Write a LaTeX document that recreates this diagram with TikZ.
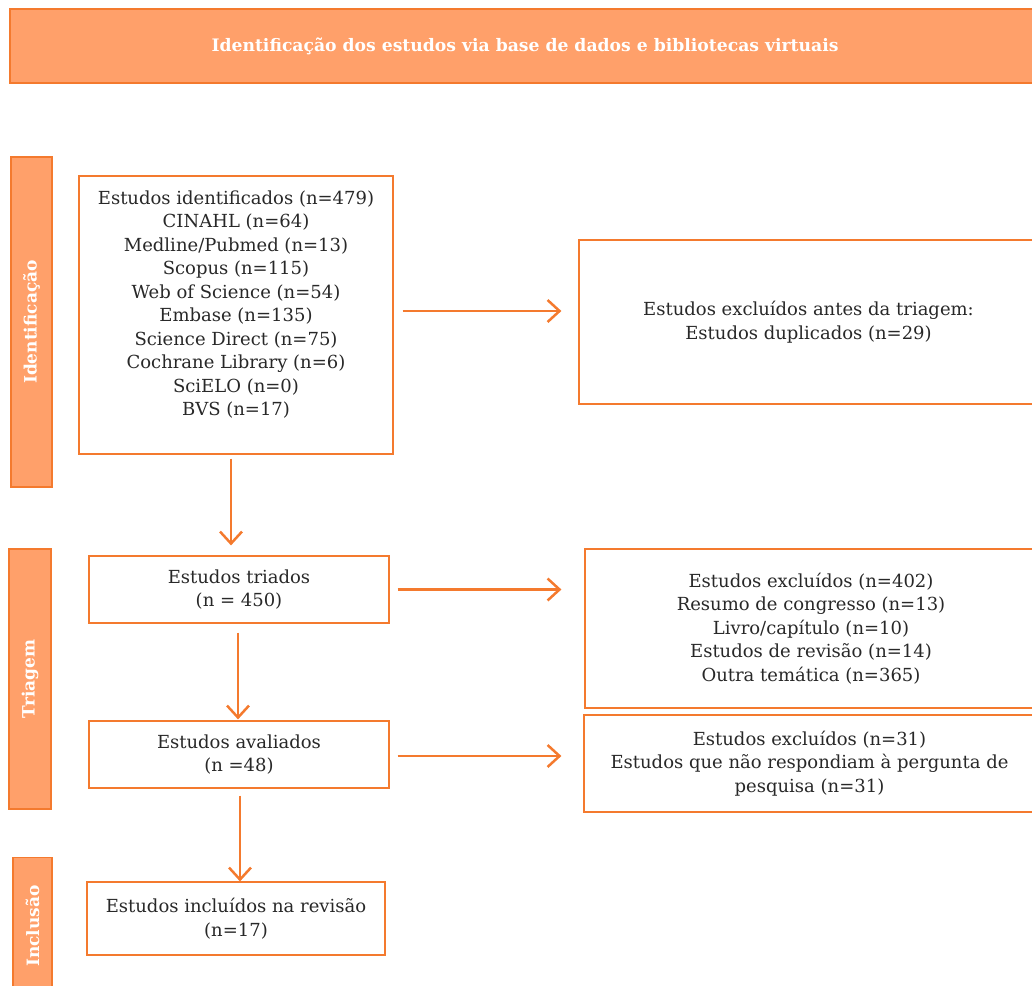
\documentclass[tikz,border=0pt]{standalone}
\usepackage{fontspec}
\setmainfont{DejaVu Serif}
\usetikzlibrary{arrows.meta}
\definecolor{prisma}{RGB}{244,122,46}
\definecolor{prismafill}{RGB}{255,160,106}
\definecolor{prismatext}{RGB}{40,40,40}

\begin{document}
\begin{tikzpicture}[x=1pt,y=-1pt,
        caixa/.style={draw=prisma,line width=1.2pt,text=prismatext,align=center,inner sep=0pt,
          font=\fontsize{18}{23.5}\selectfont},
        fase/.style={draw=prisma,fill=prismafill,line width=1.2pt,text=white,inner sep=0pt,rotate=90,
          font=\bfseries\fontsize{17}{20}\selectfont},
        seta/.style={draw=prisma,line width=2.5pt,-{Straight Barb[length=12pt,width=22pt]}}]
        \useasboundingbox (0,0) rectangle (1032,985);
        % faixa do topo e fases
        \node[fase,rotate=-90,minimum width=1030,minimum height=74,font=\bfseries\fontsize{17.2}{20}\selectfont] (titulo) at (525,46) {Identificação dos estudos via base de dados e bibliotecas virtuais};
        \node[fase,minimum width=330,minimum height=41] (fid) at (31.5,322) {Identificação};
        \node[fase,minimum width=260,minimum height=42] (ftr) at (30,679) {Triagem};
        \node[fase,minimum width=137,minimum height=39] (fin) at (32.5,926) {Inclusão};
        % caixas
        \node[caixa,minimum width=314,minimum height=278] (ident) at (236,315) {Estudos identificados (n=479)\\CINAHL (n=64)\\Medline/Pubmed (n=13)\\Scopus (n=115)\\Web of Science (n=54)\\Embase (n=135)\\Science Direct (n=75)\\Cochrane Library (n=6)\\SciELO (n=0)\\BVS (n=17)\\ \mbox{}};
        \node[caixa,minimum width=459,minimum height=164] (excl1) at (808.5,322) {Estudos excluídos antes da triagem:\\Estudos duplicados (n=29)};
        \node[caixa,minimum width=300,minimum height=67] (triados) at (239,589.5) {Estudos triados\\(n = 450)};
        \node[caixa,minimum width=452,minimum height=159] (excl2) at (811,628.5) {Estudos excluídos (n=402)\\Resumo de congresso (n=13)\\Livro/capítulo (n=10)\\Estudos de revisão (n=14)\\Outra temática (n=365)};
        \node[caixa,minimum width=300,minimum height=67] (avaliados) at (239,754.5) {Estudos avaliados\\(n =48)};
        \node[caixa,minimum width=451,minimum height=97] (excl3) at (809.5,763.5) {Estudos excluídos (n=31)\\Estudos que não respondiam à pergunta de\\pesquisa (n=31)};
        \node[caixa,minimum width=298,minimum height=73] (incl) at (236,918.5) {Estudos incluídos na revisão\\(n=17)};
        % setas
        \draw[seta,shorten <=9pt,shorten >=17pt] ([yshift=4pt]ident.east) -- ([yshift=4pt]ident.east -| excl1.west);
        \draw[seta,shorten <=4pt,shorten >=10pt] ([xshift=-5pt]ident.south) -- ([xshift=-5pt]ident.south |- triados.north);
        \draw[seta,shorten <=8pt,shorten >=23pt] (triados.east) -- (triados.east -| excl2.west);
        \draw[seta,shorten <=9pt,shorten >=1pt] ([xshift=-1pt]triados.south) -- ([xshift=-1pt]triados.south |- avaliados.north);
        \draw[seta,shorten <=8pt,shorten >=22pt] ([yshift=-1.5pt]avaliados.east) -- ([yshift=-1.5pt]avaliados.east -| excl3.west);
        \draw[seta,shorten <=7pt] ([xshift=1pt]avaliados.south) -- ([xshift=1pt]avaliados.south |- incl.north);
\end{tikzpicture}
\end{document}
